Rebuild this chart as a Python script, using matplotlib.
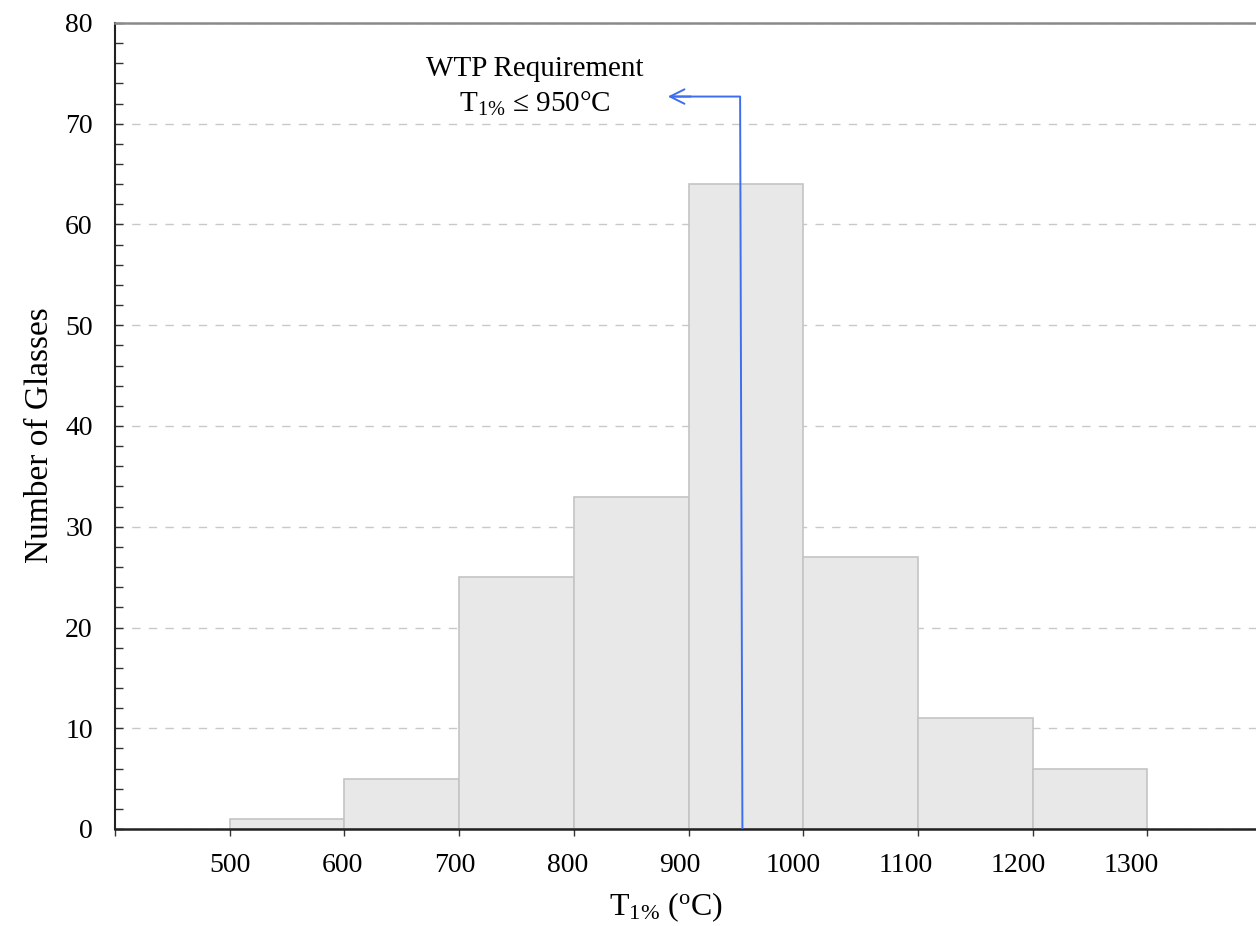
import matplotlib
matplotlib.use('Agg')
import matplotlib.pyplot as plt
from matplotlib.ticker import MultipleLocator

plt.rcParams['font.family'] = ['Liberation Serif', 'DejaVu Serif']
plt.rcParams['mathtext.fontset'] = 'custom'
plt.rcParams['mathtext.rm'] = 'Liberation Serif'
plt.rcParams['mathtext.it'] = 'Liberation Serif:italic'

bin_left = [500, 600, 700, 800, 900, 1000, 1100, 1200]
counts = [1, 5, 25, 33, 64, 27, 11, 6]
bin_width = 100
xtick_values = [400, 500, 600, 700, 800, 900, 1000, 1100, 1200, 1300, 1400]
xlabel_values = [500, 600, 700, 800, 900, 1000, 1100, 1200, 1300]
xlabel_text = ['500', '600', '700', '800', '900', '1000', '1100', '1200', '1300']

req_x_bottom = 947
req_x_top = 945
req_y = 72.7
arrow_x = 882

W, H = 1256, 926
fig = plt.figure(figsize=(W / 100, H / 100), dpi=100)
ax = fig.add_axes([115 / W, (H - 829) / H, (1262 - 115) / W, (829 - 23) / H])

ax.bar(bin_left, counts, width=bin_width, align='edge',
       color='#e8e8e8', edgecolor='#c4c4c4', linewidth=1.2, zorder=2)

ax.set_xlim(400, 1400)
ax.set_ylim(0, 80)

# major ticks carry the marks, minor ticks (no mark) carry the labels,
# which sit slightly left of the ticks in the original
ax.xaxis.remove_overlapping_locs = False
ax.set_xticks(xtick_values)
ax.set_xticklabels([''] * len(xtick_values))
ax.set_xticks([v - (v - 500) * 0.018 for v in xlabel_values], minor=True)
ax.set_xticklabels(xlabel_text, minor=True)
ax.tick_params(axis='x', which='major', direction='out', length=5, width=1,
               color='#333333')
ax.tick_params(axis='x', which='minor', length=0, labelsize=20, pad=17)

ax.yaxis.set_major_locator(MultipleLocator(10))
ax.yaxis.set_minor_locator(MultipleLocator(2))
ax.tick_params(axis='y', which='both', direction='in', length=6, width=1,
               color='#333333', labelsize=20, pad=16)
ax.grid(axis='y', which='major', linestyle=(0, (6, 6)), color='#c8c8c8', linewidth=1)
ax.set_axisbelow(True)

ax.spines['right'].set_visible(False)
ax.spines['top'].set_color('#8a8a8a')
ax.spines['top'].set_linewidth(1.8)
ax.spines['left'].set_color('#222222')
ax.spines['left'].set_linewidth(1.5)
ax.spines['bottom'].set_color('#222222')
ax.spines['bottom'].set_linewidth(1.8)

ax.set_ylabel('Number of Glasses', fontsize=24)
ax.yaxis.set_label_coords((40 - 115) / (1262 - 115), (829 - 435) / (829 - 23))
ax.set_xlabel(r'T$_{1\%}$ ($^{\rm o}$C)', fontsize=23)
ax.xaxis.set_label_coords((666 - 115) / (1262 - 115), -(907 - 829) / (829 - 23))
ax.xaxis.label.set_va('center')
ax.yaxis.label.set_va('center')

ax.plot([req_x_bottom, req_x_top, arrow_x + 3], [0, req_y, req_y],
        color='#3d6ef0', linewidth=1.4, zorder=4)
ax.annotate('', xy=(arrow_x, req_y), xytext=(arrow_x + 20, req_y),
            arrowprops=dict(arrowstyle='->', color='#3d6ef0', lw=1.4,
                            mutation_scale=26, shrinkA=0, shrinkB=0), zorder=4)

ax.text(766, 75.4, 'WTP Requirement', fontsize=21, ha='center', va='center')
ax.text(766, 72.0, r'T$_{1\%}$ ≤ 950°C', fontsize=21, ha='center', va='center')

fig.savefig('out.png', dpi=100)
